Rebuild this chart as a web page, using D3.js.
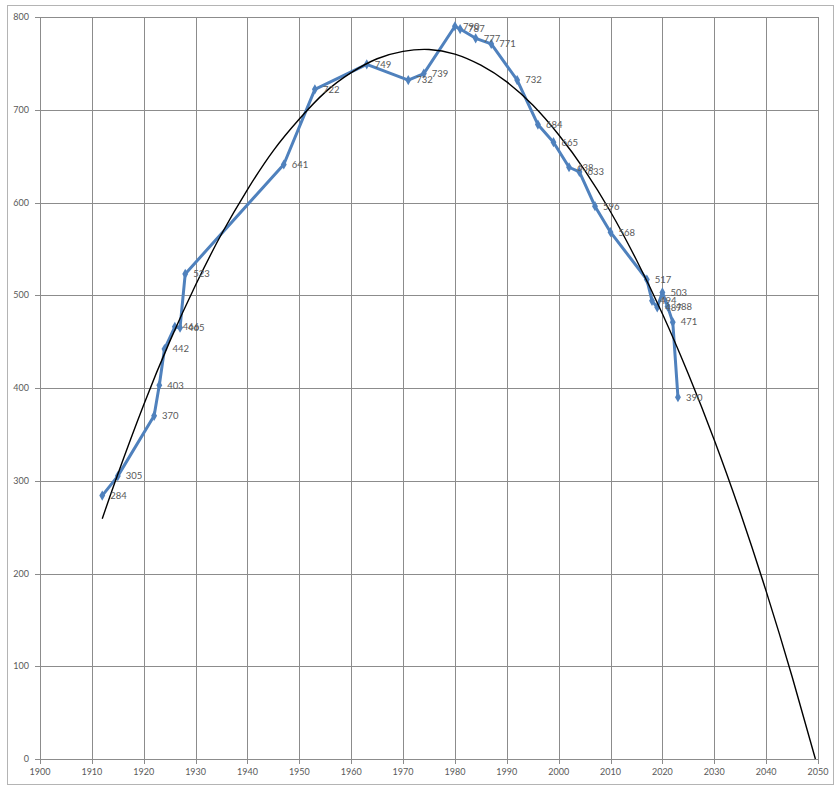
<!DOCTYPE html>
<html>
<head>
<meta charset="utf-8">
<script src="https://cdn.jsdelivr.net/npm/d3@7"></script>
<style>
  html, body { margin: 0; padding: 0; background: #fff; }
  svg { display: block; }
  .grid line { stroke: #8c8c8c; stroke-width: 1; }
  .tick-label { font-family: Lato, "Liberation Sans", sans-serif; font-size: 9px; fill: #595959; }
  .pt-label { font-family: Lato, "Liberation Sans", sans-serif; font-size: 9.5px; fill: #595959; }
</style>
</head>
<body>
<svg id="chart"></svg>
<script>
// --------------------
// Data
// --------------------
const years = [1912, 1915, 1922, 1923, 1924, 1926, 1927, 1928, 1947, 1953, 1963, 1971, 1974,
  1980, 1981, 1984, 1987, 1992, 1996, 1999, 2002, 2004, 2007, 2010, 2017, 2018, 2019, 2020,
  2021, 2022, 2023];
const values = [284, 305, 370, 403, 442, 466, 465, 523, 641, 722, 749, 732, 739,
  790, 787, 777, 771, 732, 684, 665, 638, 633, 596, 568, 517, 494, 487, 503,
  488, 471, 390];

// black trend curve
const trendYears = [1912, 1915, 1920, 1925, 1930, 1935, 1940, 1945, 1950, 1955, 1960, 1965,
  1970, 1975, 1980, 1985, 1990, 1995, 2000, 2005, 2010, 2015, 2020, 2025, 2030, 2035,
  2040, 2045, 2049.5];
const trendValues = [259, 307, 382, 450, 511, 566, 614, 656, 690, 719, 740, 755,
  763, 765, 760, 748, 730, 705, 673, 635, 590, 538, 480, 415, 344, 266,
  181, 89, 0];

const xTicks = d3.range(1900, 2051, 10);
const yTicks = d3.range(0, 801, 100);

// --------------------
// Basic setup
// --------------------
const width = 839;
const height = 788;
const plot = { left: 40, right: 818, top: 17, bottom: 759 };

const svg = d3.select("#chart")
  .attr("width", width)
  .attr("height", height);

// outer frame
svg.append("rect")
  .attr("x", 7.5).attr("y", 5.5)
  .attr("width", 826).attr("height", 779)
  .attr("fill", "none")
  .attr("stroke", "#b4b4b4");

const x = d3.scaleLinear().domain([1900, 2050]).range([plot.left, plot.right]);
const y = d3.scaleLinear().domain([0, 800]).range([plot.bottom, plot.top]);

// --------------------
// Grid
// --------------------
const grid = svg.append("g").attr("class", "grid");
grid.selectAll(".v")
  .data(xTicks)
  .join("line")
    .attr("x1", d => Math.round(x(d)) + 0.5).attr("x2", d => Math.round(x(d)) + 0.5)
    .attr("y1", plot.top).attr("y2", plot.bottom + 5);
grid.selectAll(".h")
  .data(yTicks)
  .join("line")
    .attr("x1", plot.left - 5).attr("x2", plot.right)
    .attr("y1", d => Math.round(y(d)) + 0.5).attr("y2", d => Math.round(y(d)) + 0.5);

// axis labels
svg.selectAll(".ylab")
  .data(yTicks)
  .join("text")
    .attr("class", "tick-label")
    .attr("x", 29)
    .attr("y", d => y(d))
    .attr("dy", "0.35em")
    .attr("text-anchor", "end")
    .text(d => d);

svg.selectAll(".xlab")
  .data(xTicks)
  .join("text")
    .attr("class", "tick-label")
    .attr("x", d => x(d))
    .attr("y", 775)
    .attr("text-anchor", "middle")
    .text(d => d);

// --------------------
// Series
// --------------------
const pts = years.map((yr, i) => ({ year: yr, value: values[i] }));

const line = d3.line()
  .x(d => x(d.year))
  .y(d => y(d.value));

svg.append("path")
  .datum(pts)
  .attr("d", line)
  .attr("fill", "none")
  .attr("stroke", "#4f81bd")
  .attr("stroke-width", 3)
  .attr("stroke-linejoin", "round");

svg.selectAll(".marker")
  .data(pts)
  .join("path")
    .attr("d", d3.symbol(d3.symbolDiamond, 30))
    .attr("transform", d => `translate(${x(d.year)},${y(d.value)})`)
    .attr("fill", "#4f81bd");

// trend line
const trend = trendYears.map((yr, i) => ({ year: yr, value: trendValues[i] }));
svg.append("path")
  .datum(trend)
  .attr("d", line.curve(d3.curveNatural))
  .attr("fill", "none")
  .attr("stroke", "#000")
  .attr("stroke-width", 1.4);

// point labels
svg.selectAll(".pt-label")
  .data(pts)
  .join("text")
    .attr("class", "pt-label")
    .attr("x", d => x(d.year) + 8)
    .attr("y", d => y(d.value))
    .attr("dy", "0.35em")
    .text(d => d.value);
</script>
</body>
</html>
